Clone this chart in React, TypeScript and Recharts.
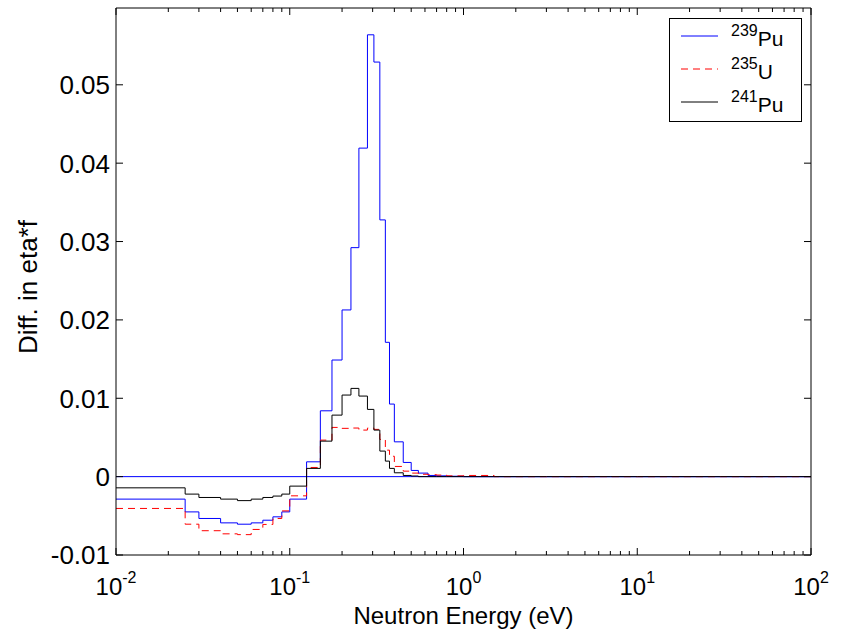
import React from 'react';
import { LineChart, Line, XAxis, YAxis, ReferenceLine, Legend } from 'recharts';

// Bin edges (eV) and the group-wise values (value of the bin starting at each edge)
const energyEdges = [0.01, 0.025, 0.03, 0.04, 0.05, 0.06, 0.07, 0.08, 0.09, 0.1, 0.125, 0.15, 0.175, 0.2, 0.225, 0.25, 0.28, 0.305, 0.33, 0.355, 0.375, 0.4, 0.45, 0.5, 0.55, 0.625, 0.7, 0.8, 1.0, 1.5, 3, 7, 10, 30, 100];
const pu239Values = [-0.00287, -0.0045, -0.00534, -0.0059, -0.00607, -0.0059, -0.00556, -0.00513, -0.0045, -0.00287, 0.00189, 0.0084, 0.01488, 0.02127, 0.02922, 0.04192, 0.05638, 0.0529, 0.03276, 0.01714, 0.00926, 0.00444, 0.00181, 0.00079, 0.00045, 0.00015, 0.0001, 0.00005, 0, 0, 0, 0, 0, 0, 0];
const u235Values = [-0.00406, -0.00607, -0.0069, -0.0073, -0.0074, -0.00674, -0.0061, -0.00534, -0.00437, -0.00245, 0.00117, 0.00466, 0.00628, 0.00616, 0.0062, 0.00594, 0.0062, 0.00603, 0.00475, 0.00338, 0.0026, 0.0013, 0.0007, 0.00045, 0.0003, 0.00025, 0.0002, 0.0001, 0.00015, 0, 0, 0, 0, 0, 0];
const pu241Values = [-0.00143, -0.00223, -0.00266, -0.00287, -0.00306, -0.00287, -0.00266, -0.00248, -0.00223, -0.00121, 0.00105, 0.00453, 0.00785, 0.01041, 0.01126, 0.01028, 0.00858, 0.00594, 0.00326, 0.00198, 0.00105, 0.00049, 0.00015, 0.00008, 0, 0, 0, 0, 0, 0, 0, 0, 0, 0, 0];

const seriesNames = ['239Pu', '235U', '241Pu'];
const xMajorTicks = [0.01, 0.1, 1, 10, 100];
const xTickExponents = ['-2', '-1', '0', '1', '2'];
const xMinorMultipliers = [2, 3, 4, 5, 6, 7, 8, 9];
const yTicks = [-0.01, 0, 0.01, 0.02, 0.03, 0.04, 0.05];
const yTickLabels = ['-0.01', '0', '0.01', '0.02', '0.03', '0.04', '0.05'];
const Y_MIN = -0.01;
const Y_MAX = 0.0598;

const data = energyEdges.map((e, i) => ({
  e,
  pu239: pu239Values[i],
  u235: u235Values[i],
  pu241: pu241Values[i],
}));

const xMinorTicks: number[] = [];
xMajorTicks.slice(0, -1).forEach((d) => xMinorMultipliers.forEach((m) => xMinorTicks.push(+(d * m).toPrecision(3))));
const xAllTicks = [...xMajorTicks, ...xMinorTicks].sort((a, b) => a - b);

// layout constants
const W = 843;
const H = 630;
const PLOT_LEFT = 116;
const PLOT_RIGHT = 811;
const PLOT_TOP = 8;
const PLOT_BOTTOM = 555;
const FONT = '"Liberation Sans", Arial, Helvetica, sans-serif';

const isMajor = (v: number) => xMajorTicks.some((m) => Math.abs(m - v) / m < 1e-6);

const XTick = (props: any) => {
  const { x, payload } = props;
  const v = payload.value;
  const major = isMajor(v);
  const len = major ? 7 : 4;
  const idx = xMajorTicks.findIndex((m) => Math.abs(m - v) / m < 1e-6);
  return (
    <g>
      <line x1={x} x2={x} y1={PLOT_BOTTOM} y2={PLOT_BOTTOM - len} stroke="#000" strokeWidth={1} />
      <line x1={x} x2={x} y1={PLOT_TOP} y2={PLOT_TOP + len} stroke="#000" strokeWidth={1} />
      {major && (
        <text x={x} y={595} textAnchor="middle" fontSize={24} fontFamily={FONT} fill="#000">
          <tspan>10</tspan>
          <tspan dy={-12} fontSize={16}>{xTickExponents[idx]}</tspan>
        </text>
      )}
    </g>
  );
};

const YTick = (props: any) => {
  const { y, payload, right } = props;
  const v = payload.value;
  const idx = yTicks.findIndex((t) => Math.abs(t - v) < 1e-9);
  const x0 = right ? PLOT_RIGHT : PLOT_LEFT;
  const x1 = right ? x0 - 7 : x0 + 7;
  return (
    <g>
      <line x1={x0} x2={x1} y1={y} y2={y} stroke="#000" strokeWidth={1} />
      {!right && (
        <text x={110} y={y} dy="0.36em" textAnchor="end" fontSize={26} fontFamily={FONT} fill="#000">
          {yTickLabels[idx]}
        </text>
      )}
    </g>
  );
};

const XLabel = () => (
  <text x={(PLOT_LEFT + PLOT_RIGHT) / 2} y={624} textAnchor="middle" fontSize={24} fontFamily={FONT} fill="#000">
    Neutron Energy (eV)
  </text>
);

const YLabel = () => (
  <g>
    <line x1={PLOT_LEFT} x2={PLOT_RIGHT} y1={PLOT_TOP} y2={PLOT_TOP} stroke="#000" strokeWidth={1} />
    <text
      x={37}
      y={287}
      transform={`rotate(-90 37 287)`}
      textAnchor="middle"
      fontSize={26}
      fontFamily={FONT}
      fill="#000"
    >
      Diff. in eta*f
    </text>
  </g>
);

const renderLegend = (props: any) => {
  const payload = [...(props.payload || [])].sort(
    (a: any, b: any) => seriesNames.indexOf(String(a.value)) - seriesNames.indexOf(String(b.value))
  );
  return (
    <svg width={134} height={105} style={{ display: 'block' }}>
      <rect x={0.5} y={0.5} width={132} height={103} fill="#fff" stroke="#000" strokeWidth={1} />
      {payload.map((entry: any, i: number) => {
        const name = String(entry.value);
        const m = name.match(/^(\d+)(.*)$/);
        const cy = 18 + i * 33;
        const dash = entry.payload && entry.payload.strokeDasharray;
        return (
          <g key={i}>
            <line x1={12} x2={49} y1={cy} y2={cy} stroke={entry.color} strokeWidth={1} strokeDasharray={dash} />
            <text x={62} y={cy + 10} fontSize={21} fontFamily={FONT} fill="#000">
              <tspan dy={-10} fontSize={16}>{m ? m[1] : ''}</tspan>
              <tspan dy={10}>{m ? m[2] : name}</tspan>
            </text>
          </g>
        );
      })}
    </svg>
  );
};

export default function App() {
  return (
    <div style={{ position: 'absolute', left: 0, top: 0, width: W, height: H, background: '#fff' }}>
      <LineChart
        width={W}
        height={H}
        data={data}
        margin={{ top: PLOT_TOP, right: W - PLOT_RIGHT - 1, bottom: 45, left: 0 }}
      >
        <XAxis
          dataKey="e"
          type="number"
          scale="log"
          domain={[0.01, 100]}
          allowDataOverflow
          ticks={xAllTicks}
          interval={0}
          tickLine={false}
          axisLine={{ stroke: '#000', strokeWidth: 1 }}
          height={30}
          tick={(p: any) => <XTick {...p} />}
          label={<XLabel />}
        />
        <YAxis
          type="number"
          domain={[Y_MIN, Y_MAX]}
          allowDataOverflow
          ticks={yTicks}
          interval={0}
          tickLine={false}
          axisLine={{ stroke: '#000', strokeWidth: 1 }}
          width={PLOT_LEFT}
          tick={(p: any) => <YTick {...p} />}
          label={<YLabel />}
        />
        <YAxis
          yAxisId="right"
          orientation="right"
          type="number"
          domain={[Y_MIN, Y_MAX]}
          allowDataOverflow
          ticks={yTicks}
          interval={0}
          tickLine={false}
          axisLine={{ stroke: '#000', strokeWidth: 1 }}
          width={1}
          tick={(p: any) => <YTick {...p} right />}
        />
        <ReferenceLine y={0} stroke="#0000ff" strokeWidth={1} />
        <Line type="stepAfter" dataKey="pu239" name={seriesNames[0]} stroke="#0000ff" strokeWidth={1} dot={false} activeDot={false} isAnimationActive={false} />
        <Line type="stepAfter" dataKey="u235" name={seriesNames[1]} stroke="#ff0000" strokeWidth={1} strokeDasharray="7 5" dot={false} activeDot={false} isAnimationActive={false} />
        <Line type="stepAfter" dataKey="pu241" name={seriesNames[2]} stroke="#000000" strokeWidth={1} dot={false} activeDot={false} isAnimationActive={false} />
        <Legend
          layout="vertical"
          align="center"
          verticalAlign="middle"
          content={renderLegend}
          wrapperStyle={{ left: 669, top: 18, width: 134, height: 105 }}
        />
      </LineChart>
    </div>
  );
}
